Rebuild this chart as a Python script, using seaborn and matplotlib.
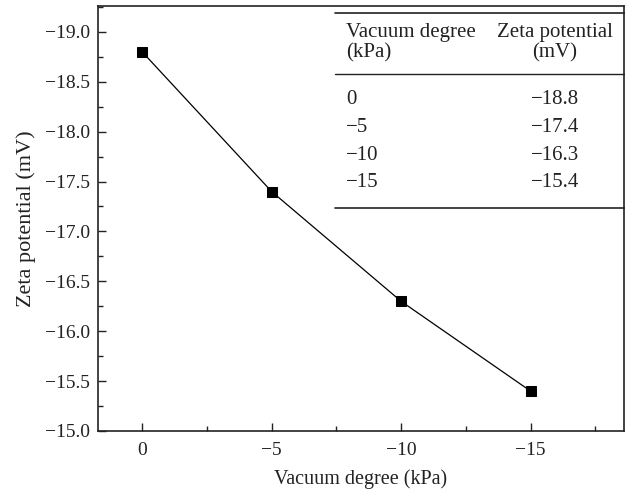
import pandas as pd
import seaborn as sns
import matplotlib.pyplot as plt
from matplotlib.ticker import MultipleLocator
from matplotlib.lines import Line2D

vacuum = [0, -5, -10, -15]
zeta = [-18.8, -17.4, -16.3, -15.4]
yticks = [-19.0, -18.5, -18.0, -17.5, -17.0, -16.5, -16.0, -15.5, -15.0]
xticks = [0, -5, -10, -15]
table_head = ["Vacuum degree", "Zeta potential", "(kPa)", "(mV)"]

df = pd.DataFrame({"vac": vacuum, "zeta": zeta})

sns.set_theme(style="ticks")
plt.rcParams["font.family"] = ["Liberation Serif", "DejaVu Serif"]
plt.rcParams["axes.unicode_minus"] = True

fig = plt.figure(figsize=(6.25, 4.92), dpi=100)
ax = fig.add_axes([0.157, 0.124, 0.841, 0.864])

sns.lineplot(x="vac", y="zeta", data=df, ax=ax, color="black", linewidth=0.9,
             marker="s", markersize=6.5, markeredgecolor="black")

ax.set_xlim(1.7, -18.6)
ax.set_ylim(-15.0, -19.26)
ax.set_xticks(xticks)
ax.set_yticks(yticks)
ax.xaxis.set_minor_locator(MultipleLocator(2.5))
ax.yaxis.set_minor_locator(MultipleLocator(0.25))
ax.set_xticklabels([str(v).replace("-", "\u2212") for v in xticks])
ax.set_yticklabels([f"{v:.1f}".replace("-", "\u2212") for v in yticks])
ax.tick_params(which="major", direction="in", length=6, width=1, labelsize=14,
               color="#222222", labelcolor="#222222")
ax.tick_params(which="minor", direction="in", length=3.5, width=1, color="#222222")
ax.tick_params(axis="y", pad=6)
ax.tick_params(axis="x", pad=8)
for s in ax.spines.values():
    s.set_linewidth(1.2)
    s.set_color("#222222")
ax.set_xlabel("Vacuum degree (kPa)", fontsize=14.5, labelpad=7, color="#222222")
ax.set_ylabel("Zeta potential (mV)", fontsize=16, labelpad=6, color="#222222")

# inset table, drawn in figure pixel coords
W, H = 625, 492
def fx(px):
    return px / W
def fy(py):
    return 1 - py / H

tx0, tx1 = 335, 625
for yy, lw in [(12.7, 1.2), (74, 1.0), (208, 1.2)]:
    fig.add_artist(Line2D([fx(tx0), fx(tx1)], [fy(yy), fy(yy)], color="#222222", lw=lw))
fs = 15
c1, c2 = 346, 555
fig.text(fx(c1), fy(32), table_head[0], fontsize=fs, va="center", ha="left", color="#222222")
fig.text(fx(c2), fy(32), table_head[1], fontsize=fs, va="center", ha="center", color="#222222")
fig.text(fx(c1), fy(53), table_head[2], fontsize=fs, va="center", ha="left", color="#222222")
fig.text(fx(c2), fy(53), table_head[3], fontsize=fs, va="center", ha="center", color="#222222")
for i, (v, z) in enumerate(zip(vacuum, zeta)):
    yy = 100 + i * 27.5
    fig.text(fx(c1), fy(yy), str(v).replace("-", "\u2212"), fontsize=fs, va="center",
             ha="left", color="#222222")
    fig.text(fx(c2), fy(yy), f"{z:.1f}".replace("-", "\u2212"), fontsize=fs, va="center",
             ha="center", color="#222222")

fig.savefig("out.png", dpi=100)
